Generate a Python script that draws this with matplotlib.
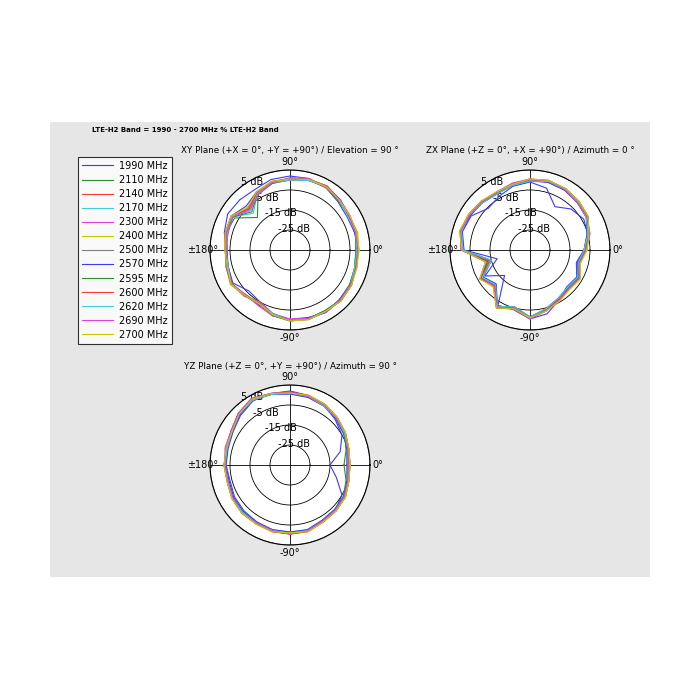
import numpy as np
import matplotlib
matplotlib.use('Agg')
import matplotlib.pyplot as plt
import matplotlib.patches as mpatches

# angles in degrees, 15 deg steps
ANGLES = list(range(0, 360, 15))
FREQS = ['1990 MHz', '2110 MHz', '2140 MHz', '2170 MHz', '2300 MHz', '2400 MHz', '2500 MHz',
         '2570 MHz', '2595 MHz', '2600 MHz', '2620 MHz', '2690 MHz', '2700 MHz']
COLORS = ['#3a3aff', '#2e8b2e', '#ff3a3a', '#40d0d0', '#e040e0', '#c8c800', '#808080',
          '#3a3aff', '#2e8b2e', '#ff3a3a', '#40d0d0', '#e040e0', '#c8c800']

xy_gain = [
    [-1, -1.5, -2, -1, 1, 2, 2, 1.5, 0, 0.5, 1, -1, -3, -3, -2, -6, -5, -2, 0, 0.5, 1, 0, -0.5, -1],
    [-2, -1, -0.5, 0, 1.5, 1, 0, -0.5, -3, -12, -3, -2, -3, -2, -1, -3, -4, -1, 0, 0.5, 0, 0.5, 0, -1.5],
    [-1.5, -0.5, -1, 0.5, 1.5, 1.5, 0.5, 0, -2, -6, -1.5, -2, -3, -2.5, -1, -3, -3.5, -1.5, 0.5, 0.5, 0.5, 1, 0, -1],
    [-2, -1, -1.5, 0, 1, 1.5, 0.5, 0, -2.5, -9, -2, -2.5, -3.5, -2, -1.5, -3, -4, -1, 0, 1, 0.5, 0.5, -0.5, -1.5],
    [-1, -1, -0.5, 0.5, 2, 1.5, 0, -0.5, -3, -7, -1.5, -3, -2.5, -3, -1, -2.5, -5, -2, -0.5, 0, 1, 0.5, 0, -0.5],
    [-0.5, 0, -1, 0, 1.5, 2, 1, 0.5, -1.5, -5, -1, -1.5, -2.5, -2, -0.5, -3, -4.5, -1.5, 0.5, 1, 0.5, 1, 0.5, -0.5],
    [-1.5, -1, -1, 0, 1, 1.5, 0.5, 0, -2, -5.5, -1.5, -2, -3, -2.5, -1, -3.5, -4, -1.5, 0, 0.5, 0.5, 0.5, 0, -1],
    [-1, -1.5, -1, 0.5, 1.5, 1, 0.5, 0, -1.5, -4, -1, -2, -3.5, -3, -1.5, -3, -3.5, -2, 0, 0, 1, 0, 0, -1],
    [-2, -1, -1, -0.5, 1, 1.5, 1, -0.5, -2.5, -8, -2, -2.5, -3, -2, -1, -3.5, -4, -1, 0.5, 0.5, 0, 0.5, -0.5, -1.5],
    [-1, -0.5, -0.5, 0, 2, 1.5, 0.5, 0.5, -2, -6, -1, -1.5, -2.5, -2.5, -1.5, -2.5, -4.5, -1.5, 0, 1, 0.5, 1, 0.5, -1],
    [-1.5, -1, -1.5, 0, 1.5, 1, 0, 0, -2.5, -7, -1.5, -2.5, -3, -3, -1, -3, -4, -2, 0, 0.5, 0.5, 0.5, 0, -1.5],
    [-1, -1, -1, 0.5, 1, 2, 1, 0, -3, -6.5, -2, -2, -3.5, -2, -1, -3.5, -3, -1, -0.5, 0.5, 1, 0.5, 0, -0.5],
    [-0.5, -0.5, -0.5, 0, 1.5, 1.5, 0.5, 0.5, -1.5, -5, -1, -1.5, -2.5, -2.5, -1, -3, -4, -1.5, 0.5, 1, 0.5, 1, 0.5, -0.5],
]

zx_gain = [
    [-8, -5, -4, -6, -10, -3, -1, -2, -4, -5.5, -1, 0, -2, -18, -9, -17, -3, -4, -0.5, -2, -6, -9, -8, -11],
    [-7, -4.5, -2, -1, 0, 0.5, 0, -1, -2, -1, 0, 1, -1, -13, -6, -10, -2, -5, -1, -4, -6, -8, -7, -10],
    [-7.5, -5, -1.5, -0.5, 0.5, 1, 0, -1.5, -2, -0.5, 0.5, 1, -1.5, -14, -7, -9, -1.5, -5.5, -1.5, -4.5, -7, -7.5, -6.5, -9.5],
    [-8, -5.5, -2.5, -1, 0, 0.5, -0.5, -1, -2.5, -1.5, 0, 0.5, -1, -15, -7.5, -11, -2.5, -4.5, -1, -3.5, -6.5, -8.5, -7.5, -10.5],
    [-7, -4, -2, -1.5, 0, 0, 0.5, -0.5, -1.5, -1, -0.5, 1, -0.5, -13, -6.5, -10, -2, -5, -0.5, -4, -6, -8, -6.5, -9],
    [-6.5, -4.5, -1.5, -0.5, 0.5, 1, 0.5, -1, -2, -0.5, 0.5, 1.5, -1, -12, -6, -9.5, -1.5, -4.5, -1, -3.5, -5.5, -7.5, -6, -9],
    [-7.5, -5, -2, -1, 0, 0.5, 0, -1, -2, -1, 0, 1, -1, -14, -7, -10, -2, -5, -1, -4, -6.5, -8, -7, -10],
    [-8, -5.5, -2.5, -1.5, -0.5, 0, -0.5, -1.5, -2.5, -1.5, -0.5, 0.5, -1.5, -15, -8, -11, -2.5, -5.5, -1.5, -4.5, -7, -8.5, -7.5, -10.5],
    [-7, -4.5, -2, -1, 0, 1, 0, -1, -2, -1, 0, 1, -1, -13, -6.5, -10.5, -2, -5, -1, -4, -6, -8, -7, -10],
    [-7.5, -5, -1.5, -0.5, 0.5, 0.5, 0, -1, -1.5, -0.5, 0.5, 1, -1, -14, -7, -9.5, -1.5, -4.5, -1, -4, -6.5, -7.5, -6.5, -9.5],
    [-8, -5, -2.5, -1, 0, 0.5, -0.5, -1.5, -2.5, -1.5, 0, 0.5, -1.5, -15, -7.5, -10.5, -2.5, -5.5, -1.5, -4.5, -7, -8.5, -7.5, -10],
    [-7, -4, -2, -1.5, 0, 1, 0.5, -0.5, -2, -1, 0, 1, -0.5, -12, -6, -10, -2, -5, -0.5, -3.5, -6, -7.5, -6.5, -9.5],
    [-6.5, -4.5, -1.5, -0.5, 0.5, 1, 0.5, -1, -1.5, -0.5, 0.5, 1.5, -1, -12, -6, -9, -1.5, -4.5, -1, -3.5, -5.5, -7, -6, -9],
]

yz_gain = [
    [-15, -9, -5, -3, -0.5, 1, 2, 2, 2, 0, -2, -3, -3, -4, -3, -2.5, -2, -1, -1.5, -1, -2.5, -3, -5, -11],
    [-6, -5, -3.5, -2, -0.5, 0.5, 1, 1.5, 2.5, 1, -1.5, -2, -2.5, -3, -2, -1.5, -1.5, -1, -1, -1, -2.5, -3, -3.5, -5],
    [-5.5, -4.5, -3, -1.5, 0, 1, 1, 2, 3, 1.5, -1, -2.5, -2, -2.5, -1.5, -1, -1, -0.5, -0.5, -0.5, -2, -2.5, -3, -4.5],
    [-6.5, -5.5, -4, -2.5, -1, 0, 0.5, 1.5, 2.5, 0.5, -2, -2, -3, -3.5, -2.5, -2, -2, -1.5, -1.5, -1.5, -3, -3.5, -4, -5.5],
    [-6, -5, -3, -2, -0.5, 0.5, 1.5, 2, 3.5, 1.5, -1, -1.5, -2.5, -3, -2, -1, -1.5, -1, -0.5, -1, -2.5, -3, -3.5, -5],
    [-5, -4.5, -3, -1.5, 0, 1, 1, 2, 3, 1, -1.5, -2, -2, -2.5, -1.5, -1, -1, -0.5, -1, -0.5, -2, -2.5, -3, -4.5],
    [-6, -5, -3.5, -2, -0.5, 0.5, 1, 2, 3, 1, -1.5, -2, -2.5, -3, -2, -1.5, -1.5, -1, -1, -1, -2.5, -3, -3.5, -5],
    [-6.5, -5.5, -4, -2.5, -1, 0, 0.5, 1.5, 2.5, 0.5, -2, -2.5, -3, -3.5, -2.5, -2, -2, -1.5, -1.5, -1.5, -3, -3.5, -4, -5.5],
    [-8, -6, -3.5, -2, -0.5, 0.5, 1, 2, 3, 1, -1.5, -2, -2.5, -3, -2, -1.5, -1.5, -1, -1, -1, -2.5, -3, -4, -6],
    [-5.5, -4.5, -3, -1.5, 0, 1, 1.5, 2, 3, 1.5, -1, -2, -2, -2.5, -1.5, -1, -1, -0.5, -0.5, -0.5, -2, -2.5, -3, -4.5],
    [-6, -5, -3.5, -2, -1, 0.5, 1, 1.5, 2.5, 1, -1.5, -2.5, -2.5, -3, -2, -1.5, -1.5, -1, -1, -1, -2.5, -3, -3.5, -5],
    [-6, -5, -3, -2, -0.5, 0.5, 1, 2, 3.5, 1.5, -1, -1.5, -2.5, -3, -2, -1, -1.5, -1, -0.5, -1, -2.5, -3, -3.5, -5],
    [-5, -4.5, -3, -1.5, 0, 1, 1, 2, 3, 1, -1.5, -2, -2, -2.5, -1.5, -1, -1, -0.5, -1, -0.5, -2, -2.5, -3, -4.5],
]

R_MIN, R_MAX = -35, 5
PX = 700.0


def polar_panel(fig, cx, cy, title, gains):
    rad = 80
    ax = fig.add_axes([(cx - rad) / PX, 1 - (cy + rad) / PX, 2 * rad / PX, 2 * rad / PX],
                      projection='polar')
    ax.set_facecolor('white')
    th = np.deg2rad(ANGLES + [ANGLES[0]])
    lines = []
    for g, c in zip(gains, COLORS):
        ln, = ax.plot(th, g + [g[0]], color=c, linewidth=0.8)
        lines.append(ln)
    ax.set_ylim(R_MIN, R_MAX)
    ax.set_rgrids([-25, -15, -5, 5], labels=['-25 dB', '-15 dB', '-5 dB', '5 dB'],
                  angle=128, fontsize=7)
    ax.set_thetagrids([0, 90, 180, 270], labels=['0°', '90°', '±180°', '-90°'], fontsize=7)
    ax.grid(True, color='black', linewidth=0.6, linestyle='-')
    ax.tick_params(axis='x', pad=-5)
    ax.spines['polar'].set_linewidth(0.8)
    fig.text(cx / PX, 1 - (cy - 99) / PX, title, ha='center', va='center', fontsize=6.3)
    return lines


def main() -> None:
    fig = plt.figure(figsize=(7, 7), dpi=100)
    fig.patch.set_facecolor('white')
    fig.patches.append(mpatches.Rectangle((50 / PX, 1 - 577 / PX), 600 / PX, 455 / PX,
                                          transform=fig.transFigure, facecolor='#e6e6e6',
                                          edgecolor='none', zorder=-10))
    fig.text(185 / PX, 1 - 130 / PX, 'LTE-H2 Band = 1990 - 2700 MHz % LTE-H2 Band',
             ha='center', va='center', fontsize=5, fontweight='bold')

    lines = polar_panel(fig, 290, 250, 'XY Plane (+X = 0°, +Y = +90°) / Elevation = 90 °', xy_gain)
    polar_panel(fig, 530, 250, 'ZX Plane (+Z = 0°, +X = +90°) / Azimuth = 0 °', zx_gain)
    polar_panel(fig, 290, 465, 'YZ Plane (+Z = 0°, +Y = +90°) / Azimuth = 90 °', yz_gain)

    leg = fig.legend(lines, FREQS, loc='upper left', bbox_to_anchor=(78 / PX, 1 - 157 / PX),
                     borderaxespad=0, fontsize=7, frameon=True, fancybox=False,
                     edgecolor='black', handlelength=3.2, labelspacing=0.42, borderpad=0.4,
                     handletextpad=0.6)
    leg.get_frame().set_linewidth(0.8)
    fig.savefig('out.png', dpi=100)
    plt.close()


if __name__ == '__main__':
    main()
